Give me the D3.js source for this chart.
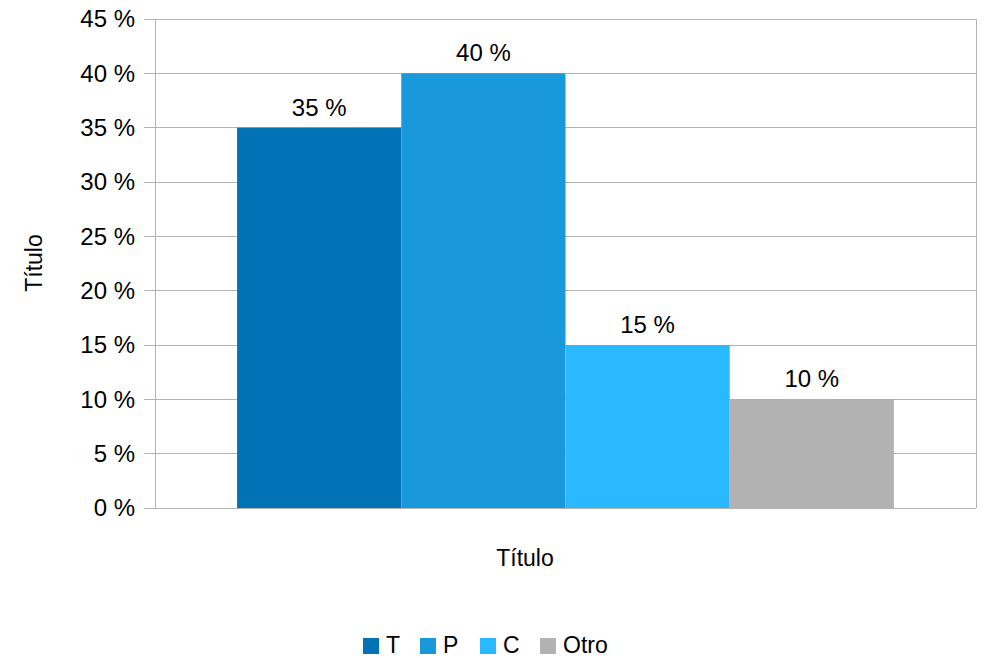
<!DOCTYPE html>
<html><head><meta charset="utf-8">
<script src="https://cdn.jsdelivr.net/npm/d3@7"></script>
<style>body{margin:0;background:#fff;} svg{display:block;font-family:"Liberation Sans",Arial,sans-serif;}</style>
</head><body>
<svg id="c" width="987" height="658"></svg>
<script>
const categories = ["T","P","C","Otro"];
const values = [35, 40, 15, 10];
const colors = ["#0072b5","#1a98dc","#2ab8fe","#b2b2b2"];
const yTicks = [0,5,10,15,20,25,30,35,40,45];
const axisTitleY = "Título";
const axisTitleX = "Título";

const svg = d3.select("#c");
const m = {l:155, r:976, t:19, b:508};
const x = d3.scaleBand().domain(categories).range([m.l, m.r]).paddingInner(0);
x.paddingOuter((0.1*(m.r-m.l))/((m.r-m.l)*0.8/categories.length));
const y = d3.scaleLinear().domain([0,45]).range([m.b, m.t]);

// gridlines
svg.append("g").selectAll("line").data(yTicks).join("line")
  .attr("x1", m.l-11).attr("x2", m.r).attr("y1", d=>y(d)).attr("y2", d=>y(d))
  .attr("stroke", "#b3b3b3").attr("stroke-width", 1).attr("shape-rendering","crispEdges");
svg.append("line").attr("x1",m.l).attr("x2",m.l).attr("y1",m.t).attr("y2",m.b).attr("stroke","#b3b3b3").attr("shape-rendering","crispEdges");
svg.append("line").attr("x1",m.r).attr("x2",m.r).attr("y1",m.t).attr("y2",m.b).attr("stroke","#b3b3b3").attr("shape-rendering","crispEdges");

// bars
svg.append("g").selectAll("rect").data(categories).join("rect")
  .attr("x", d=>x(d)).attr("width", x.bandwidth())
  .attr("y", (d,i)=>y(values[i])).attr("height", (d,i)=>y(0)-y(values[i]))
  .attr("fill", (d,i)=>colors[i]);
svg.append("line").attr("x1",m.l-11).attr("x2",m.r).attr("y1",m.b).attr("y2",m.b).attr("stroke","#b3b3b3").attr("shape-rendering","crispEdges");

// data labels
svg.append("g").selectAll("text").data(categories).join("text")
  .attr("x", d=>x(d)+x.bandwidth()/2).attr("y", (d,i)=>y(values[i])-12)
  .attr("text-anchor","middle").attr("font-size",24).attr("fill","#000")
  .text((d,i)=>values[i]+" %");

// y tick labels
svg.append("g").selectAll("text").data(yTicks).join("text")
  .attr("x", 135).attr("y", d=>y(d)).attr("dy","0.35em")
  .attr("text-anchor","end").attr("font-size",24).attr("fill","#000")
  .text(d=>d+" %");

// axis titles
svg.append("text").attr("transform","translate(42,263) rotate(-90)")
  .attr("text-anchor","middle").attr("font-size",23).text(axisTitleY);
svg.append("text").attr("x",525).attr("y",566)
  .attr("text-anchor","middle").attr("font-size",23).text(axisTitleX);

// legend
const legX = [363, 420, 480, 540];
const lg = svg.append("g").selectAll("g").data(categories).join("g")
  .attr("transform",(d,i)=>`translate(${legX[i]},638)`);
lg.append("rect").attr("width",16).attr("height",16).attr("fill",(d,i)=>colors[i]);
lg.append("text").attr("x",23).attr("y",15).attr("font-size",23).text(d=>d);
</script>
</body></html>
